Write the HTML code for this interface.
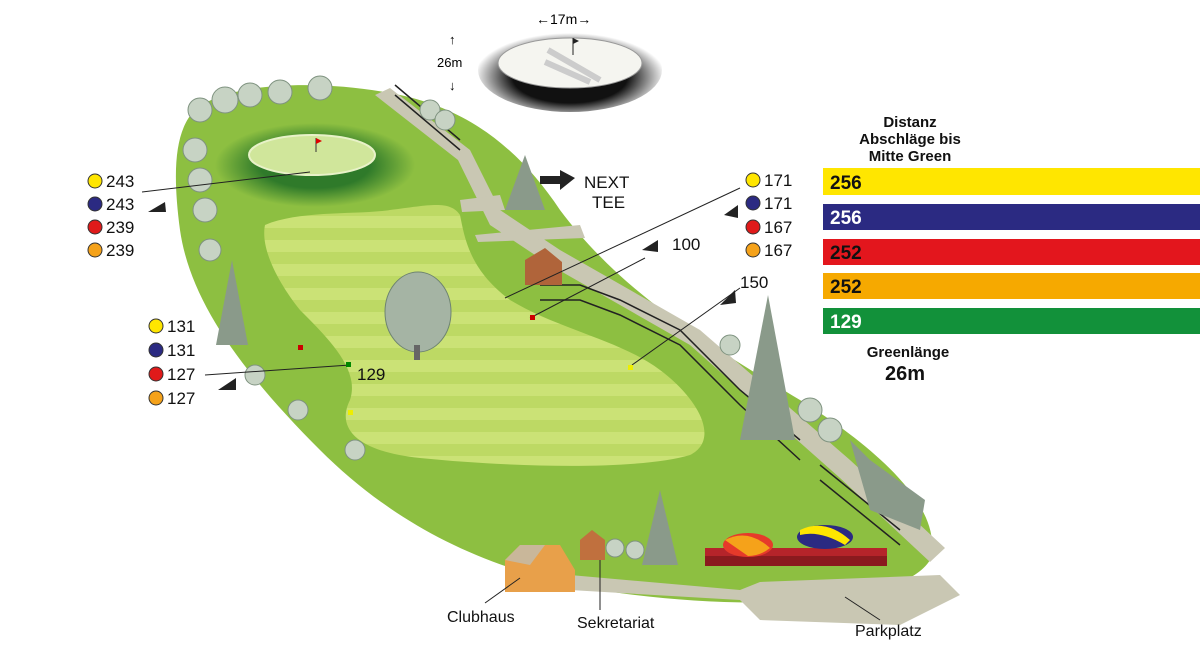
<!DOCTYPE html>
<html><head><meta charset="utf-8"><style>
html,body{margin:0;padding:0;background:#fff;}
svg{display:block;font-family:"Liberation Sans",sans-serif;}
</style></head><body>
<svg width="1200" height="665" viewBox="0 0 1200 665" xmlns="http://www.w3.org/2000/svg">
<defs>
<pattern id="st" width="24" height="24" patternUnits="userSpaceOnUse">
<rect width="24" height="12" fill="#cbe276"/><rect y="12" width="24" height="12" fill="#bdd964"/>
</pattern>
<radialGradient id="gr" cx="50%" cy="50%" r="50%">
<stop offset="55%" stop-color="#2f7a2a"/><stop offset="100%" stop-color="#8dbf41"/>
</radialGradient>
<radialGradient id="sh" cx="50%" cy="58%" r="52%">
<stop offset="60%" stop-color="#111"/><stop offset="80%" stop-color="#888"/><stop offset="100%" stop-color="#fff"/>
</radialGradient>
</defs>
<path d="M195,110 C230,80 330,80 400,95 C470,110 520,150 560,210 C620,290 700,340 800,400 C880,450 945,510 930,560 C900,610 720,610 600,590 C480,570 390,520 320,450 C240,370 190,300 180,230 C172,170 175,130 195,110 Z" fill="#8dbf41"/>
<path d="M265,225 C300,210 360,215 390,210 C430,205 450,200 460,215 C465,240 470,270 510,300 C560,330 620,340 660,370 C700,400 720,440 690,455 C640,470 520,468 420,458 C360,452 335,430 350,400 C360,370 330,340 300,310 C280,285 260,250 265,225 Z" fill="url(#st)"/>
<ellipse cx="315" cy="165" rx="100" ry="42" fill="url(#gr)"/>
<ellipse cx="312" cy="155" rx="63" ry="20" fill="#d0e69b" stroke="#e8f2c8" stroke-width="2"/>
<line x1="316" y1="152" x2="316" y2="138" stroke="#333"/><path d="M316,138 L322,141 L316,144 Z" fill="#d00"/>
<path d="M375,95 L390,88 L470,150 L500,210 L560,250 L700,330 L850,460 L945,548 L930,562 L840,478 L690,345 L550,265 L490,225 L458,160 Z" fill="#c9c7b3"/>
<path d="M460,200 L500,195 L505,210 L462,212 Z M475,235 L580,225 L585,238 L478,242 Z" fill="#c9c7b3"/>
<path d="M570,575 L740,590 L760,582 L940,575 L960,595 L900,625 L760,620 L740,600 L570,590 Z" fill="#c9c7b3"/>
<g stroke="#222" stroke-width="1.5" fill="none">
<path d="M540,285 L580,285 L620,300 L680,330 L740,390 L800,440"/>
<path d="M540,300 L580,300 L620,315 L680,345 L740,405 L800,460"/>
<path d="M820,465 L900,530"/><path d="M820,480 L900,545"/>
<path d="M395,85 L460,140 M395,95 L460,150"/>
</g>
<g fill="#c7d3c4" stroke="#7f9380" stroke-width="1">
<circle cx="200" cy="110" r="12"/><circle cx="225" cy="100" r="13"/><circle cx="250" cy="95" r="12"/><circle cx="280" cy="92" r="12"/><circle cx="320" cy="88" r="12"/>
<circle cx="195" cy="150" r="12"/><circle cx="200" cy="180" r="12"/><circle cx="205" cy="210" r="12"/><circle cx="210" cy="250" r="11"/>
<circle cx="255" cy="375" r="10"/><circle cx="298" cy="410" r="10"/><circle cx="355" cy="450" r="10"/>
<circle cx="430" cy="110" r="10"/><circle cx="445" cy="120" r="10"/>
<circle cx="730" cy="345" r="10"/><circle cx="810" cy="410" r="12"/><circle cx="830" cy="430" r="12"/>
<circle cx="615" cy="548" r="9"/><circle cx="635" cy="550" r="9"/>
</g>
<ellipse cx="418" cy="312" rx="33" ry="40" fill="#a5b4a4" stroke="#6e8470"/>
<rect x="414" y="345" width="6" height="15" fill="#666"/>
<g fill="#8a9a8a">
<path d="M232,260 L248,345 L216,345 Z"/><path d="M768,295 L795,440 L740,440 Z"/><path d="M660,490 L678,565 L642,565 Z"/>
<path d="M525,155 L545,210 L505,210 Z"/>
<path d="M850,440 L870,510 L920,530 L925,500 L870,460 Z"/>
</g>
<path d="M525,260 L545,248 L562,262 L562,285 L525,285 Z" fill="#b0643a"/>
<path d="M505,560 L520,545 L560,545 L575,570 L575,592 L505,592 Z" fill="#e8a04a"/>
<path d="M505,560 L520,545 L545,545 L530,565 Z" fill="#c9b79a"/>
<path d="M580,540 L592,530 L605,540 L605,560 L580,560 Z" fill="#c0703e"/>
<rect x="705" y="548" width="182" height="8" fill="#b5242a"/>
<rect x="705" y="556" width="182" height="10" fill="#8a1a1e"/>
<ellipse cx="748" cy="545" rx="25" ry="12" fill="#e63a2a"/><path d="M725,540 Q748,528 770,548 Q760,556 748,556 Z" fill="#f5a21a"/>
<ellipse cx="825" cy="537" rx="28" ry="12" fill="#2b2a82"/><path d="M800,530 Q825,518 850,540 L845,545 Q820,530 800,535 Z" fill="#ffe600"/>
<ellipse cx="570" cy="70" rx="92" ry="42" fill="url(#sh)"/>
<ellipse cx="570" cy="63" rx="72" ry="25" fill="#f5f5f0" stroke="#999"/>
<path d="M548,50 L600,80 M545,62 L590,82" stroke="#ccc" stroke-width="6"/>
<line x1="573" y1="55" x2="573" y2="38" stroke="#222"/><path d="M573,38 L579,41 L573,44 Z" fill="#222"/>
<text x="536" y="24" font-size="14">←17m→</text>
<text x="437" y="67" font-size="13">26m</text>
<text x="449" y="44" font-size="13">↑</text><text x="449" y="90" font-size="13">↓</text>
<g fill="#222"><path d="M148,212 L165,202 L166,212 Z"/><path d="M218,390 L236,378 L236,390 Z"/><path d="M642,250 L658,240 L658,252 Z"/><path d="M720,305 L735,290 L736,303 Z"/><path d="M724,215 L738,205 L738,218 Z"/>
<path d="M560,170 L575,178 L560,190 L560,184 L540,184 L540,176 L560,176 Z"/></g>
<g stroke="#222" stroke-width="1">
<line x1="142" y1="192" x2="310" y2="172"/><line x1="205" y1="375" x2="350" y2="365"/>
<line x1="505" y1="298" x2="740" y2="188"/><line x1="530" y1="318" x2="645" y2="258"/><line x1="632" y1="365" x2="740" y2="288"/>
</g>
<rect x="298" y="345" width="5" height="5" fill="#c00"/><rect x="346" y="362" width="5" height="5" fill="#080"/><rect x="348" y="410" width="5" height="5" fill="#ee0"/>
<rect x="530" y="315" width="5" height="5" fill="#c00"/><rect x="628" y="365" width="5" height="5" fill="#ee0"/>
<g font-size="17" fill="#111">
<text x="584" y="188">NEXT</text><text x="592" y="208">TEE</text>
<text x="357" y="380">129</text><text x="672" y="250">100</text><text x="740" y="288">150</text>
</g>
<g font-size="17" fill="#111" stroke="#333" stroke-width="1">
<circle cx="95" cy="181" r="7" fill="#ffe600"/><circle cx="95" cy="204" r="7" fill="#2b2a82"/><circle cx="95" cy="227" r="7" fill="#e01a1a"/><circle cx="95" cy="250" r="7" fill="#f5a21a"/>
<circle cx="156" cy="326" r="7" fill="#ffe600"/><circle cx="156" cy="350" r="7" fill="#2b2a82"/><circle cx="156" cy="374" r="7" fill="#e01a1a"/><circle cx="156" cy="398" r="7" fill="#f5a21a"/>
<circle cx="753" cy="180" r="7" fill="#ffe600"/><circle cx="753" cy="203" r="7" fill="#2b2a82"/><circle cx="753" cy="227" r="7" fill="#e01a1a"/><circle cx="753" cy="250" r="7" fill="#f5a21a"/>
</g>
<g font-size="17" fill="#111">
<text x="106" y="187">243</text><text x="106" y="210">243</text><text x="106" y="233">239</text><text x="106" y="256">239</text>
<text x="167" y="332">131</text><text x="167" y="356">131</text><text x="167" y="380">127</text><text x="167" y="404">127</text>
<text x="764" y="186">171</text><text x="764" y="209">171</text><text x="764" y="233">167</text><text x="764" y="256">167</text>
</g>
<g font-weight="bold" font-size="15" fill="#111" text-anchor="middle">
<text x="910" y="127">Distanz</text><text x="910" y="144">Abschläge bis</text><text x="910" y="161">Mitte Green</text>
<text x="908" y="357">Greenlänge</text><text x="905" y="380" font-size="20">26m</text>
</g>
<rect x="823" y="168" width="377" height="27" fill="#ffe600"/>
<rect x="823" y="204" width="377" height="26" fill="#2b2a82"/>
<rect x="823" y="239" width="377" height="26" fill="#e3161d"/>
<rect x="823" y="273" width="377" height="26" fill="#f6a900"/>
<rect x="823" y="308" width="377" height="26" fill="#12913a"/>
<g font-weight="bold" font-size="19">
<text x="830" y="189" fill="#111">256</text><text x="830" y="224" fill="#fff">256</text><text x="830" y="259" fill="#111">252</text><text x="830" y="293" fill="#111">252</text><text x="830" y="328" fill="#fff">129</text>
</g>
<g stroke="#222"><line x1="485" y1="603" x2="520" y2="578"/><line x1="600" y1="610" x2="600" y2="560"/><line x1="880" y1="620" x2="845" y2="597"/></g>
<g font-size="16" fill="#111"><text x="447" y="622">Clubhaus</text><text x="577" y="628">Sekretariat</text><text x="855" y="636">Parkplatz</text></g>
</svg>
</body></html>
